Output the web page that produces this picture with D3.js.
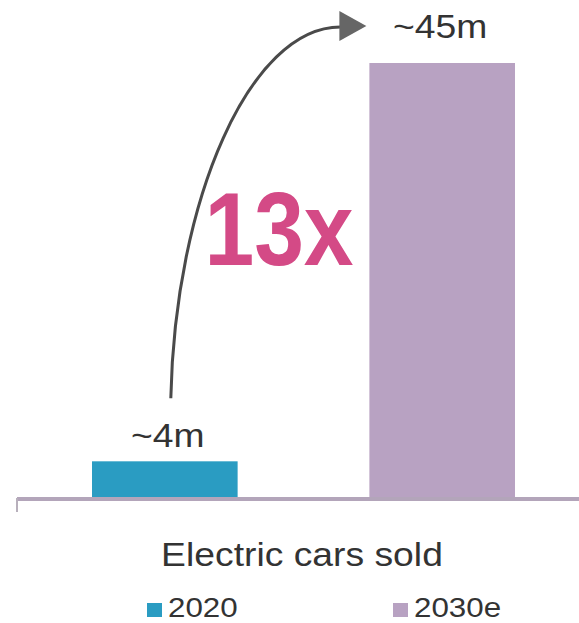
<!DOCTYPE html>
<html>
<head>
<meta charset="utf-8">
<script src="https://cdn.jsdelivr.net/npm/d3@7"></script>
<style>
  html, body { margin: 0; padding: 0; background: #ffffff; }
  svg { display: block; }
  text { font-family: "Liberation Sans", Arial, sans-serif; }
</style>
</head>
<body>
<svg id="chart" width="579" height="623"></svg>
<script>
const categories = ["2020", "2030e"];
const values = [3.7, 45];
const valueLabels = ["~4m", "~45m"];
const colors = ["#2a9cc2", "#b8a2c2"];
const multiplierLabel = "13x";
const axisTitle = "Electric cars sold";
const legendLabels = ["2020", "2030e"];

const W = 579, H = 623;
const svg = d3.select("#chart");

const x = d3.scaleBand().domain(categories).range([92, 515]).paddingInner(0.475).paddingOuter(0);
const y = d3.scaleLinear().domain([0, 45]).range([497, 63]);
const bw = x.bandwidth();
const STRETCH = 1.13;

// bars
svg.selectAll("rect.bar").data(categories).join("rect")
  .attr("class", "bar")
  .attr("x", d => x(d))
  .attr("y", (d, i) => y(values[i]))
  .attr("width", bw)
  .attr("height", (d, i) => y(0) - y(values[i]))
  .attr("fill", (d, i) => colors[i]);

// baseline axis
const axisG = svg.append("g").attr("transform", `translate(0,${y(0) + 2})`);
axisG.append("line").attr("x1", 17).attr("x2", W).attr("y1", 0).attr("y2", 0)
  .attr("stroke", "#b3a5ba").attr("stroke-width", 4);
axisG.append("line").attr("x1", 17).attr("x2", 17).attr("y1", -1).attr("y2", 13)
  .attr("stroke", "#b8b0bc").attr("stroke-width", 2);

// value labels
const labelDy = [-14, -25];
svg.selectAll("text.vlabel").data(categories).join("text")
  .attr("class", "vlabel")
  .attr("transform", (d, i) => `translate(${x(d) + bw / 2 + (i === 0 ? 3 : -2)},${y(values[i]) + labelDy[i]}) scale(${STRETCH},1)`)
  .attr("text-anchor", "middle")
  .attr("font-size", 33)
  .attr("fill", "#333333")
  .text((d, i) => valueLabels[i]);

// curved arrow
const sx = x(categories[0]) + bw / 2 + 6, sy = y(values[0]) - 63;
const ex = x(categories[1]) - 29, ey = 26;
const p = d3.path();
p.moveTo(sx, sy);
p.bezierCurveTo(sx + 4, 200, sx + 79, ey + 1, ex, ey + 1);
svg.append("path").attr("d", p.toString())
  .attr("fill", "none").attr("stroke", "#4a4a4a").attr("stroke-width", 3);
svg.append("path")
  .attr("d", `M${ex - 1},${ey - 15} L${ex + 26},${ey} L${ex - 1},${ey + 15} Z`)
  .attr("fill", "#666666");

// multiplier
svg.append("text")
  .attr("transform", `translate(279,265) scale(0.86,1)`)
  .attr("text-anchor", "middle")
  .attr("font-size", 104)
  .attr("font-weight", "bold")
  .attr("fill", "#d44a86")
  .text(multiplierLabel);

// axis title
svg.append("text")
  .attr("transform", `translate(302,566) scale(${STRETCH},1)`)
  .attr("text-anchor", "middle")
  .attr("font-size", 33)
  .attr("fill", "#333333")
  .text(axisTitle);

// legend
const legendX = [147, 393];
const lg = svg.selectAll("g.leg").data(legendLabels).join("g")
  .attr("class", "leg")
  .attr("transform", (d, i) => `translate(${legendX[i]},0)`);
lg.append("rect").attr("x", 0).attr("y", 603).attr("width", 15).attr("height", 14)
  .attr("fill", (d, i) => colors[i]);
lg.append("text")
  .attr("transform", `translate(21,617) scale(1.12,1)`)
  .attr("font-size", 28)
  .attr("fill", "#333333")
  .text(d => d);
</script>
</body>
</html>
